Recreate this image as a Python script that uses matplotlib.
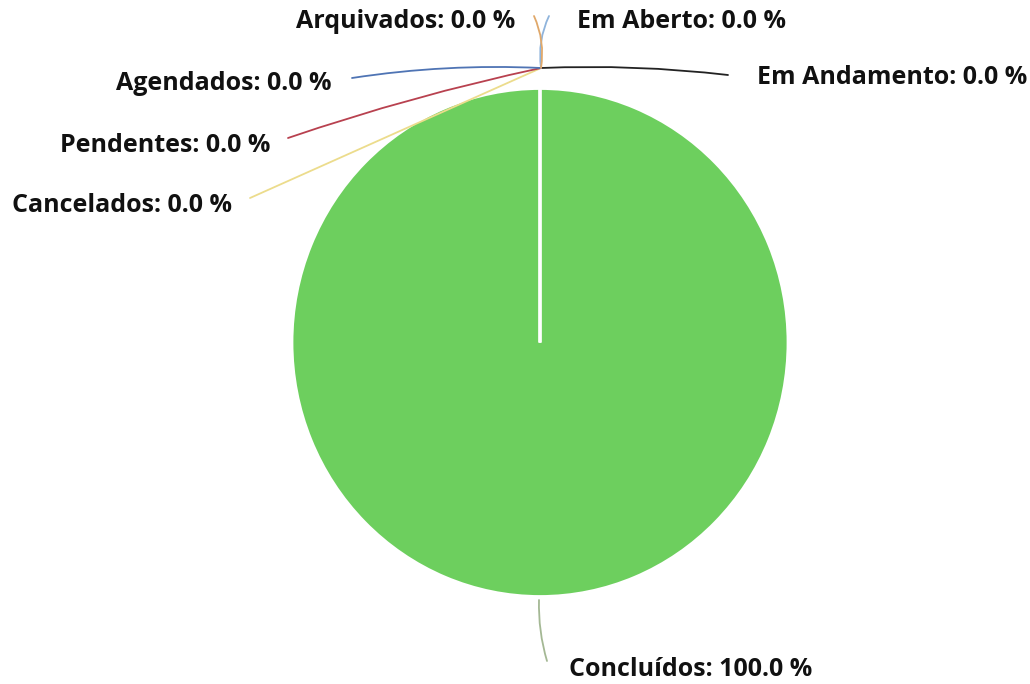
import matplotlib
matplotlib.use("Agg")
import matplotlib.pyplot as plt

# slice order, clockwise from 12 o'clock
labels = ["Em Aberto", "Em Andamento", "Concluídos", "Cancelados",
          "Pendentes", "Agendados", "Arquivados"]
values = [0.0, 0.0, 100.0, 0.0, 0.0, 0.0, 0.0]
colors = ["#8fb4dc", "#222222", "#6dcf5e", "#ecdc8c",
          "#b8414f", "#4f74b4", "#e0a86a"]
line_colors = ["#8fb4dc", "#222222", "#a4b894", "#ecdc8c",
               "#b8414f", "#4f74b4", "#e0a86a"]

# where each label sits (pixels) and how it is aligned
label_pos = {
    "Em Aberto": (577, 21, "left"),
    "Em Andamento": (757, 77, "left"),
    "Concluídos": (569, 670, "left"),
    "Cancelados": (232, 206, "right"),
    "Pendentes": (270, 146, "right"),
    "Agendados": (332, 84, "right"),
    "Arquivados": (515, 21, "right"),
}
line_end = {
    "Em Aberto": (549, 16),
    "Em Andamento": (728, 75),
    "Concluídos": (547, 661),
    "Cancelados": (250, 198),
    "Pendentes": (288, 138),
    "Agendados": (352, 78),
    "Arquivados": (534, 16),
}
line_rad = {
    "Em Aberto": 0.15, "Em Andamento": 0.04, "Concluídos": -0.08,
    "Cancelados": 0.0, "Pendentes": -0.03, "Agendados": -0.05,
    "Arquivados": -0.15,
}

W, H = 1030, 684
cx, cy, Rx, Ry = 540, 342.5, 248, 254

fig = plt.figure(figsize=(W / 100, H / 100), dpi=100)
ax = fig.add_axes([0, 0, 1, 1])

wedges, _ = ax.pie(values, colors=colors, startangle=90, counterclock=False,
                   wedgeprops=dict(edgecolor="white", linewidth=2))
ax.set_aspect("auto")
ax.set_xlim(-cx / Rx, (W - cx) / Rx)
ax.set_ylim(-(H - cy) / Ry, cy / Ry)
ax.axis("off")


def to_data(px, py):
    return (px - cx) / Rx, (cy - py) / Ry


top = to_data(541, 68)
bottom = to_data(539, 600)
for name, v, lc in zip(labels, values, line_colors):
    start = bottom if v > 0 else top
    end = to_data(*line_end[name])
    tx, ty, ha = label_pos[name]
    ax.annotate("", xy=start, xytext=end,
                arrowprops=dict(arrowstyle="-", color=lc, lw=1.3,
                                connectionstyle="arc3,rad=%s" % line_rad[name],
                                shrinkA=0, shrinkB=0))
    ax.text(*to_data(tx, ty), "%s: %.1f %%" % (name, v), ha=ha, va="center",
            fontsize=18, fontweight="bold", family="Open Sans", color="#111111")

fig.savefig("out.png", dpi=100)
